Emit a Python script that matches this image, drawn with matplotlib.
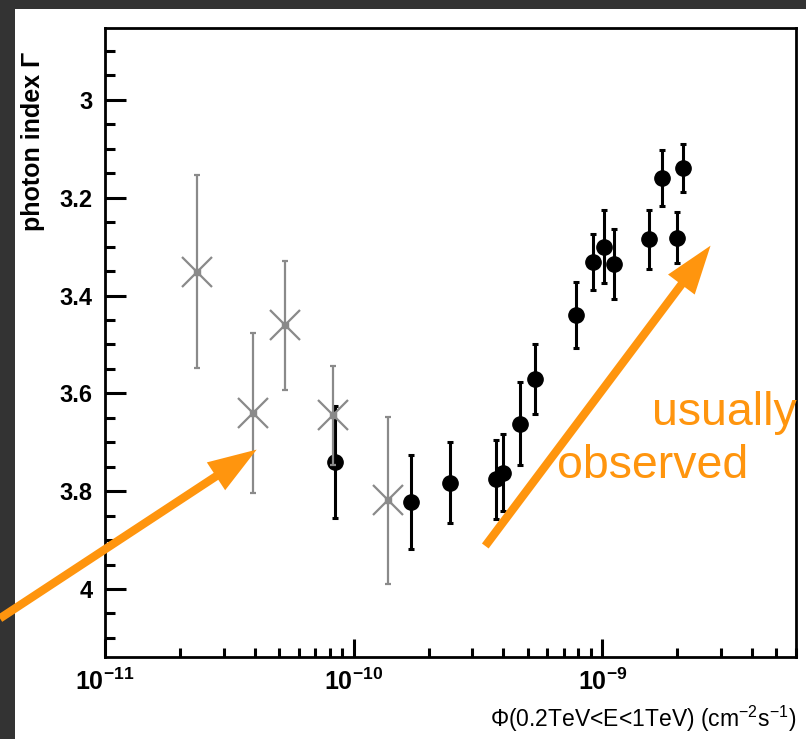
"""Photon index vs integral flux, with the 'usually observed' trend arrows."""

import numpy as np
import matplotlib
matplotlib.use("Agg")
import matplotlib.pyplot as plt
from matplotlib.patches import Rectangle
from matplotlib.ticker import FixedLocator, MultipleLocator, LogLocator, NullFormatter, FuncFormatter

plt.rcParams["font.family"] = ["Liberation Sans", "DejaVu Sans"]
plt.rcParams["mathtext.fontset"] = "custom"
plt.rcParams["mathtext.rm"] = "Liberation Sans:bold"
plt.rcParams["mathtext.it"] = "Liberation Sans:bold"
plt.rcParams["mathtext.bf"] = "Liberation Sans:bold"
plt.rcParams["mathtext.sf"] = "Liberation Sans"

# grey crosses (low state)
gray_flux = [2.34e-11, 3.92e-11, 5.30e-11, 8.22e-11, 1.374e-10]
gray_index = [3.351, 3.640, 3.461, 3.645, 3.819]
gray_err = [0.198, 0.163, 0.132, 0.101, 0.170]

# black points
blk_flux = [8.43e-11, 1.70e-10, 2.44e-10, 3.73e-10, 3.98e-10, 4.64e-10, 5.37e-10, 7.85e-10,
            9.18e-10, 1.016e-9, 1.114e-9, 1.535e-9, 1.73e-9, 1.99e-9, 2.11e-9]
blk_index = [3.740, 3.822, 3.783, 3.776, 3.762, 3.662, 3.571, 3.440,
             3.332, 3.300, 3.336, 3.285, 3.159, 3.282, 3.139]
blk_err = [0.115, 0.097, 0.083, 0.080, 0.079, 0.085, 0.071, 0.067,
           0.057, 0.074, 0.072, 0.060, 0.057, 0.052, 0.049]

y_ticks = [3.0, 3.2, 3.4, 3.6, 3.8, 4.0]
x_ticks = [1e-11, 1e-10, 1e-9]

ORANGE = "#FF950E"
GREY = "#8a8a8a"

fig = plt.figure(figsize=(8.06, 7.39), dpi=100, facecolor="#333333")
fig.patches.append(Rectangle((15 / 806, 0), 1, 1 - 9 / 739, transform=fig.transFigure,
                             facecolor="white", edgecolor="none", zorder=-10))
ax = fig.add_axes([105 / 806, 82 / 739, 691 / 806, 629 / 739])

ax.errorbar(blk_flux, blk_index, yerr=blk_err, fmt="o", color="black", ms=11,
            elinewidth=2.2, capsize=2.5, capthick=2.2, zorder=3)
ax.errorbar(gray_flux, gray_index, yerr=gray_err, fmt="x", color=GREY, ms=22, mew=1.6,
            elinewidth=1.6, capsize=2.5, capthick=1.6, zorder=4)
ax.plot(gray_flux, gray_index, "s", color=GREY, ms=4, zorder=4)

ax.set_xscale("log")
ax.set_xlim(1e-11, 6.0e-9)
ax.set_ylim(4.139, 2.853)

ax.xaxis.set_major_locator(FixedLocator(x_ticks))
ax.xaxis.set_major_formatter(FuncFormatter(lambda v, p: r"$\mathrm{10^{%d}}$" % round(np.log10(v))))
ax.xaxis.set_minor_locator(LogLocator(base=10, subs=np.arange(2, 10)))
ax.xaxis.set_minor_formatter(NullFormatter())
ax.yaxis.set_major_locator(FixedLocator(y_ticks))
ax.yaxis.set_major_formatter(FuncFormatter(lambda v, p: f"{v:g}"))
ax.yaxis.set_minor_locator(MultipleLocator(0.05))

ax.tick_params(which="both", direction="in", top=False, right=False, width=2.2)
ax.tick_params(axis="y", which="major", length=15, pad=9)
ax.tick_params(axis="y", which="minor", length=7)
ax.tick_params(axis="x", which="major", length=13, pad=8)
ax.tick_params(axis="x", which="minor", length=6.5)
for lab in ax.get_yticklabels():
    lab.set_fontsize(17)
    lab.set_fontweight("bold")
for lab in ax.get_xticklabels():
    lab.set_fontsize(18)
for s in ax.spines.values():
    s.set_linewidth(2.0)

ax.set_ylabel("photon index Γ", fontsize=18, fontweight="bold", loc="top")
ax.yaxis.set_label_coords(-0.087, 0.962)
ax.set_xlabel(r"Φ(0.2TeV<E<1TeV) (cm$^{\mathsf{-2}}$s$^{\mathsf{-1}}$)", fontsize=16.5, loc="right")
ax.xaxis.set_label_coords(1.0, -0.075)

arrow = dict(arrowstyle="simple,head_length=35,head_width=24,tail_width=6",
             mutation_scale=1, color=ORANGE, shrinkA=0, shrinkB=0, lw=0)
ax.annotate("", xy=(4.07e-11, 3.715), xytext=(3.78e-12, 4.060),
            arrowprops=arrow, annotation_clip=False, zorder=6)
ax.annotate("", xy=(2.72e-9, 3.298), xytext=(3.38e-10, 3.912),
            arrowprops=arrow, annotation_clip=False, zorder=6)

ax.text(652, 739 - 425, "usually", transform=None, color=ORANGE, fontsize=33.5,
        ha="left", va="baseline", zorder=7)
ax.text(557, 739 - 478, "observed", transform=None, color=ORANGE, fontsize=33.5,
        ha="left", va="baseline", zorder=7)

fig.savefig("out.png", dpi=100, facecolor=fig.get_facecolor())
